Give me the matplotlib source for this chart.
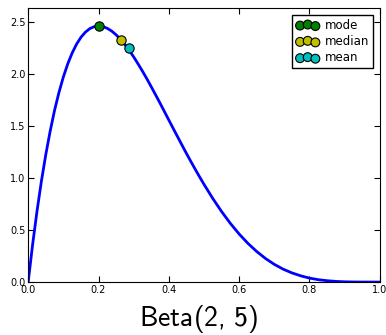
import matplotlib
matplotlib.use("Agg")
import matplotlib.pyplot as plt

# Beta(2, 5) density
x = [0.0, 0.0125, 0.025, 0.0375, 0.05, 0.0625, 0.075, 0.0875, 0.1, 0.1125,
     0.125, 0.1375, 0.15, 0.1625, 0.175, 0.1875, 0.2, 0.2125, 0.225, 0.2375,
     0.25, 0.2625, 0.275, 0.2875, 0.3, 0.3125, 0.325, 0.3375, 0.35, 0.3625,
     0.375, 0.3875, 0.4, 0.4125, 0.425, 0.4375, 0.45, 0.4625, 0.475, 0.4875,
     0.5, 0.525, 0.55, 0.575, 0.6, 0.625, 0.65, 0.675, 0.7, 0.725,
     0.75, 0.775, 0.8, 0.825, 0.85, 0.875, 0.9, 0.925, 0.95, 0.975, 1.0]
pdf = [0.0, 0.357, 0.678, 0.966, 1.222, 1.448, 1.648, 1.820, 1.968, 2.094,
       2.198, 2.283, 2.349, 2.398, 2.432, 2.451, 2.458, 2.452, 2.435, 2.409,
       2.373, 2.330, 2.279, 2.223, 2.161, 2.094, 2.024, 1.951, 1.874, 1.796,
       1.717, 1.636, 1.555, 1.474, 1.394, 1.314, 1.235, 1.158, 1.083, 1.009,
       0.938, 0.802, 0.677, 0.563, 0.461, 0.371, 0.293, 0.226, 0.170, 0.124,
       0.088, 0.060, 0.038, 0.023, 0.013, 0.0064, 0.0027, 0.0009, 0.0002, 0.0, 0.0]

stat_names = ["mode", "median", "mean"]
stat_x = [0.2, 0.2644, 0.2857]
stat_y = [2.458, 2.322, 2.250]
stat_colors = ["g", "y", "c"]

plt.rcParams["mathtext.fontset"] = "custom"
plt.rcParams["mathtext.rm"] = "cmss10"
plt.rcParams["mathtext.it"] = "cmss10"
plt.rcParams["mathtext.sf"] = "cmss10"

fig = plt.figure(figsize=(3.86, 3.35), dpi=100)
ax = fig.add_axes([0.073, 0.158, 0.911, 0.818])

ax.plot(x, pdf, color="b", lw=2, zorder=2)
for name, sx, sy, c in zip(stat_names, stat_x, stat_y, stat_colors):
    ax.scatter([sx], [sy], s=45, c=c, edgecolors="k", linewidths=0.8,
               label=name, zorder=3)

ax.set_xlim(0, 1)
ax.set_ylim(0, 2.63)
ax.set_xticks([0.0, 0.2, 0.4, 0.6, 0.8, 1.0])
ax.set_yticks([0.0, 0.5, 1.0, 1.5, 2.0, 2.5])
ax.tick_params(direction="in", top=True, right=True, labelsize=7, length=4,
               pad=2)
for sp in ax.spines.values():
    sp.set_linewidth(0.8)

ax.legend(loc="upper right", scatterpoints=3, fontsize=8.5,
          scatteryoffsets=[0.375, 0.5, 0.3125], markerscale=0.95,
          fancybox=False, framealpha=1, edgecolor="k",
          handlelength=1.9, handletextpad=0.5, borderpad=0.35,
          labelspacing=0.28, borderaxespad=0.55)

ax.set_xlabel(r"$\mathrm{Beta}(2,\, 5)$", fontsize=20, labelpad=6)
ax.xaxis.set_label_coords(0.486, -0.075, transform=ax.transAxes)
ax.xaxis.label.set_va("top")

plt.savefig("out.png", dpi=100)
